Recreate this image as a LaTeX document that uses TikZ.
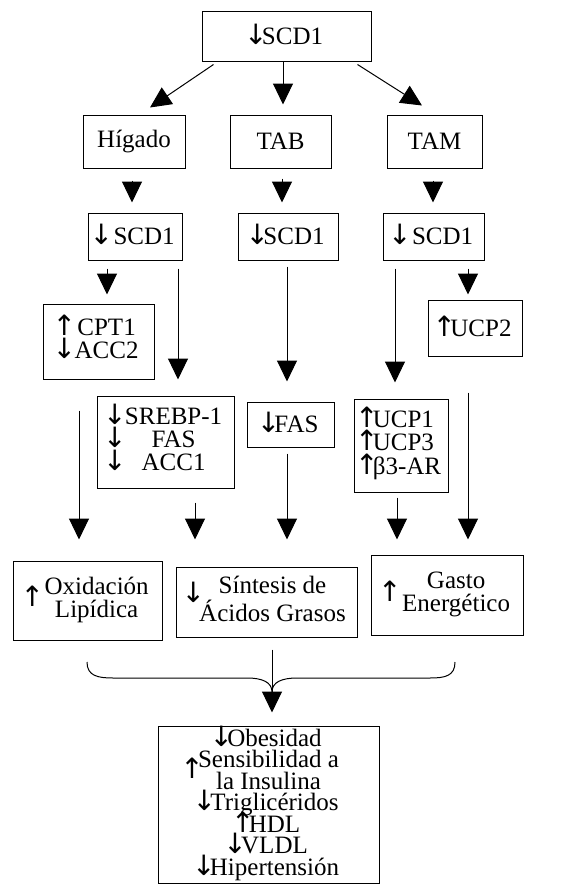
\documentclass[tikz,border=0pt]{standalone}
\usepackage{fontspec}
\setmainfont{Liberation Serif}
\newfontfamily\flechas{DejaVu Sans}
\usetikzlibrary{arrows.meta}
\newcommand{\fuente}{\fontsize{25}{21.5}\selectfont\lineskiplimit=-10pt\relax}
\newcommand{\dn}{\makebox[12pt]{\smash{\flechas\fontsize{28}{21.5}\selectfont ↓}}}
\newcommand{\up}{\makebox[12pt]{\smash{\flechas\fontsize{28}{21.5}\selectfont ↑}}}
\tikzset{
  caja/.style={draw, line width=1pt, inner sep=0pt, align=center},
  flecha/.style={line width=1pt, -{Triangle[length=21pt,width=20pt]}},
}

\begin{document}
\begin{tikzpicture}[x=1pt,y=-1pt,font=\fuente]
  \useasboundingbox (0,0) rectangle (566,884);
  % nivel 1
  \node[caja, minimum width=169pt, minimum height=50pt] (top) at (286.5,36) {\dn SCD1};
  % tejidos
  \node[caja, minimum width=102pt, minimum height=53pt] (hig) at (134,141.5) {Hígado};
  \node[caja, minimum width=101pt, minimum height=53pt] (tab) at (280.5,141.5) {TAB};
  \node[caja, minimum width=95pt, minimum height=53pt] (tam) at (434.5,141.5) {TAM};
  \node[caja, minimum width=94pt, minimum height=47pt] (scdA) at (135,236.5) {\dn\ SCD1};
  \node[caja, minimum width=100pt, minimum height=47pt] (scdB) at (288,236.5) {\dn SCD1};
  \node[caja, minimum width=101pt, minimum height=47pt] (scdC) at (433.5,236.5) {\dn\ SCD1};
  % genes
  \node[caja, minimum width=111pt, minimum height=75pt] (cpt) at (98.5,341.5)
    {\begin{tabular}{@{}c@{\,}c@{}}\up & CPT1\\ \dn & ACC2\end{tabular}};
  \node[caja, minimum width=94pt, minimum height=56pt] (ucp2) at (475,328) {\up UCP2};
  \node[caja, minimum width=137pt, minimum height=92pt] (srebp) at (165.5,442)
    {\begin{tabular}{@{}c@{\,}c@{}}\dn & SREBP-1\\ \dn & FAS\\ \dn & ACC1\end{tabular}};
  \node[caja, minimum width=87pt, minimum height=45pt] (fas) at (290.5,424.5) {\dn FAS};
  \node[caja, minimum width=94pt, minimum height=93pt] (ucp1) at (401,445.5)
    {\begin{tabular}{@{}c@{}l@{}}\up & UCP1\\ \up & UCP3\\ \up & β3-AR\end{tabular}};
  % efectos
  \node[caja, minimum width=149pt, minimum height=79pt] (oxi) at (87.5,600.5)
    {\up\ \begin{tabular}{@{}c@{}}Oxidación\\Lipídica\end{tabular}};
  \node[caja, minimum width=181pt, minimum height=70pt] (sin) at (266.5,602)
    {\raisebox{6pt}{\dn}\begin{tabular}{@{}c@{}}Síntesis de\\Ácidos Grasos\end{tabular}};
  \node[caja, minimum width=152pt, minimum height=80pt] (gas) at (447,595)
    {\up\ \begin{tabular}{@{}c@{}}Gasto\\Energético\end{tabular}};
  % resultado
  \node[caja, minimum width=221pt, minimum height=157pt] (res) at (268.5,804.5)
    {\dn Obesidad\\
     \llap{\raisebox{-11pt}{\up}}Sensibilidad a\\
     la Insulina\\
     \dn Triglicéridos\\
     \up HDL\\
     \dn VLDL\\
     \dn Hipertensión};
  % flechas
  \draw[flecha] ([xshift=12pt,yshift=-3pt]top.south west) -- ([xshift=16pt,yshift=7pt]hig.north);
  \draw[flecha] ([xshift=-3.5pt]top.south) -- ([xshift=2.5pt,yshift=10pt]tab.north);
  \draw[flecha] ([xshift=-14pt,yshift=-3pt]top.south east) -- ([xshift=-12.5pt,yshift=9pt]tam.north);
  \draw[flecha] ([xshift=-2pt,yshift=-12pt]hig.south) -- ([xshift=-3pt,yshift=10pt]scdA.north);
  \draw[flecha] ([xshift=1.5pt,yshift=-10pt]tab.south) -- ([xshift=-6pt,yshift=10pt]scdB.north);
  \draw[flecha] ([xshift=-1.5pt,yshift=-12pt]tam.south) -- ([xshift=-0.5pt,yshift=10pt]scdC.north);
  \draw[flecha] ([xshift=-28pt,yshift=-8pt]scdA.south) -- ([xshift=8.5pt,yshift=9pt]cpt.north);
  \draw[flecha] ([xshift=43pt,yshift=-8pt]scdA.south) -- ([xshift=12.5pt,yshift=16pt]srebp.north);
  \draw[flecha] ([xshift=-1pt,yshift=-6pt]scdB.south) -- ([xshift=-3.5pt,yshift=20pt]fas.north);
  \draw[flecha] ([xshift=-38.5pt,yshift=-8pt]scdC.south) -- ([xshift=-6pt,yshift=16pt]ucp1.north);
  \draw[flecha] ([xshift=34.5pt,yshift=-8pt]scdC.south) -- ([xshift=-7pt,yshift=5pt]ucp2.north);
  \draw[flecha] ([xshift=-19.5pt,yshift=-31pt]cpt.south) -- ([xshift=-8.5pt,yshift=21pt]oxi.north);
  \draw[flecha] ([xshift=29.5pt,yshift=-14pt]srebp.south) -- ([xshift=-71.5pt,yshift=27pt]sin.north);
  \draw[flecha] ([xshift=-3.5pt,yshift=-6pt]fas.south) -- ([xshift=20.5pt,yshift=27pt]sin.north);
  \draw[flecha] ([xshift=-4pt,yshift=-5pt]ucp1.south) -- ([xshift=-50pt,yshift=15pt]gas.north);
  \draw[flecha] ([xshift=-7pt,yshift=-36pt]ucp2.south) -- ([xshift=21pt,yshift=15pt]gas.north);
  % llave
  \draw[line width=1pt] (87,662) .. controls (87,676) and (98,678) .. (113,678) -- (247,678)
    .. controls (262,678) and (272,682) .. (272,692)
    .. controls (272,682) and (282,678) .. (297,678) -- (430,678)
    .. controls (445,678) and (455,676) .. (455,662);
  \draw[flecha] ([xshift=5.5pt,yshift=-12pt]sin.south) -- ([xshift=3.5pt,yshift=13pt]res.north);
\end{tikzpicture}
\end{document}
